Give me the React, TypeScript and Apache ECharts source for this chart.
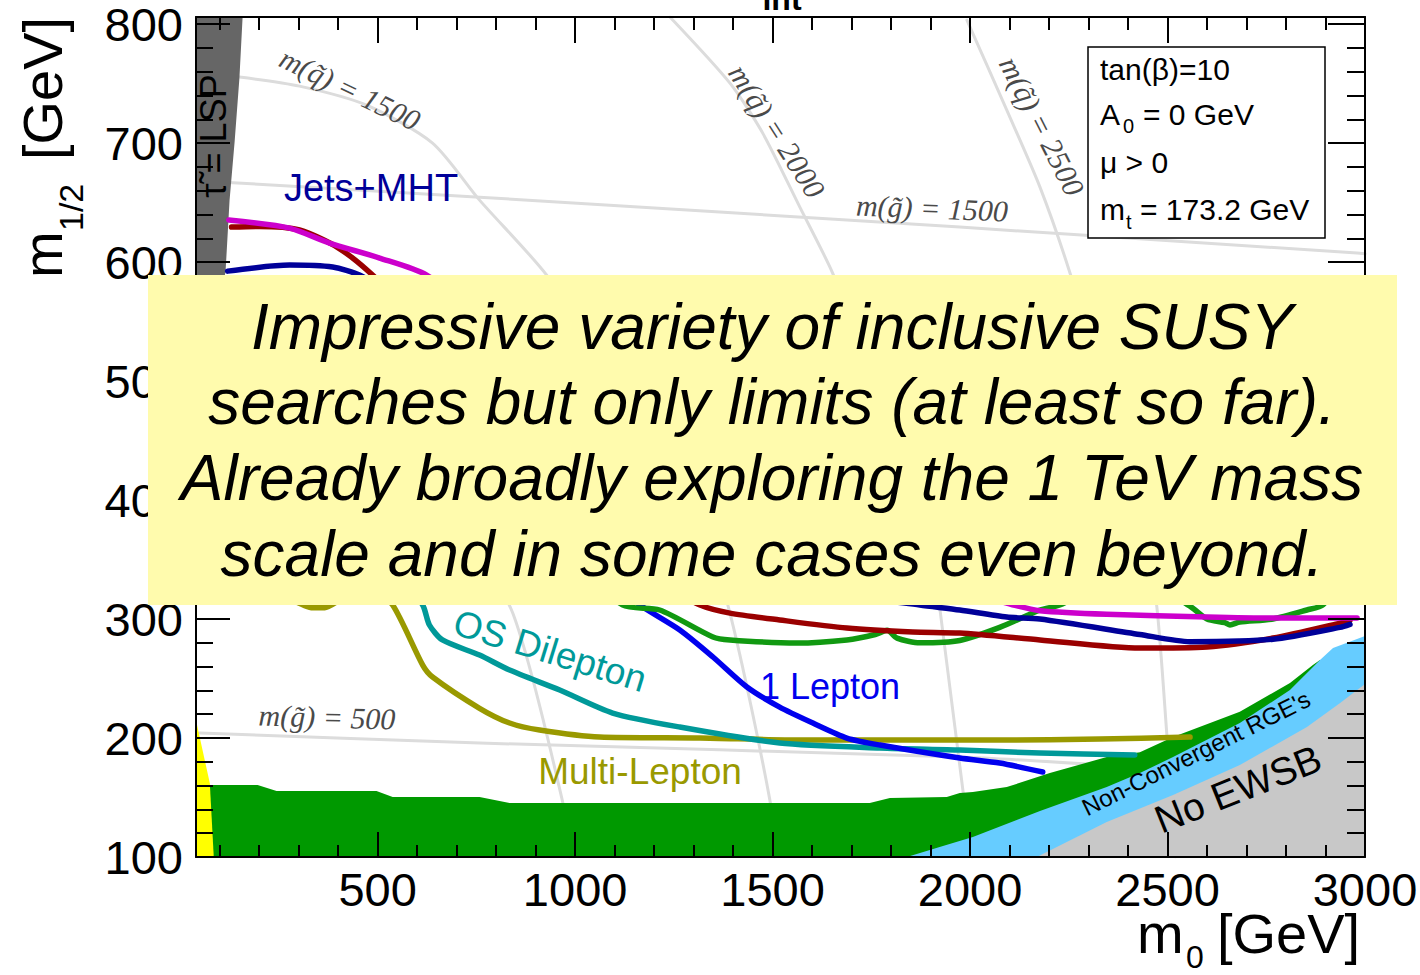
import React, { useEffect, useRef } from 'react';
import * as echarts from 'echarts';

// ---- axis ticks / labels ----
const X_MAJOR = [500, 1000, 1500, 2000, 2500, 3000];
const X_MINOR = [100, 200, 300, 400, 600, 700, 800, 900, 1100, 1200, 1300, 1400, 1600, 1700, 1800, 1900, 2100, 2200, 2300, 2400, 2600, 2700, 2800, 2900];
const Y_MAJOR = [100, 200, 300, 400, 500, 600, 700, 800];
const Y_MINOR = [120, 140, 160, 180, 220, 240, 260, 280, 320, 340, 360, 380, 420, 440, 460, 480, 520, 540, 560, 580, 620, 640, 660, 680, 720, 740, 760, 780];

// ---- filled regions (m0, m1/2) ----
const LSP_REGION = [[40, 806], [158, 806], [150, 755], [138, 702], [125, 652], [115, 593], [80, 520], [40, 470]];
const YELLOW_REGION = [[40, 215], [75, 162], [85, 100], [40, 100]];
const GREEN_REGION = [[70, 100], [70, 160.5], [196, 160.5], [244, 155.5], [497, 155.5], [538, 150.4], [758, 150.4], [834, 145.4], [1746, 145.4], [1797, 149.6], [1941, 150.4], [1974, 153.8], [2007, 154.6], [2093, 158.8], [2202, 170.6], [2346, 184], [2430, 188], [2514, 200.8], [2683, 222], [2810, 246.2], [2868, 261.3], [2886, 265.5], [2886, 100]];
const NONCONV_REGION = [[1840, 100], [1923, 108.4], [2007, 116.8], [2177, 138.7], [2346, 158.8], [2430, 170.6], [2514, 184], [2683, 212.6], [2810, 240.3], [2886, 265.5], [2919, 275.6], [3000, 285.7], [3000, 100]];
const NOEWSB_REGION = [[2169, 100], [2346, 129.4], [2514, 152.1], [2683, 177.3], [2853, 209.2], [2937, 229.4], [3000, 245.4], [3000, 100]];

// ---- iso-mass contours ----
const MSQ_1000 = [[200, 470], [500, 440], [700, 380], [842, 305], [969, 145.4], [985, 100]];
const MSQ_1500 = [[150, 755.5], [302, 747.9], [472, 731.9], [639, 700], [758, 652.1], [928, 589], [1150, 480], [1300, 400], [1392, 305], [1493, 148], [1505, 100]];
const MSQ_2000 = [[1240, 806], [1392, 750.4], [1475, 708.4], [1569, 646.2], [1652, 590.8], [1800, 470], [1900, 360], [1923, 310], [2000, 108.4], [2005, 100]];
const MSQ_2500 = [[1992, 803.4], [2093, 727.7], [2177, 663], [2253, 590.8], [2380, 450], [2450, 350], [2473, 310], [2498, 204], [2520, 100]];
const MG_500 = [[49, 204.2], [758, 195.8], [1974, 184], [2400, 176]];
const MG_1500 = [[110, 667.2], [758, 654.6], [1974, 629.4], [2980, 607.6], [3000, 607]];

// ---- exclusion limits ----
const MAGENTA = [[123, 635.3], [277, 628.6], [378, 616], [505, 603.4], [624, 589.1], [800, 545], [1000, 495], [1200, 440], [1500, 380], [1800, 340], [2000, 322], [2119, 311], [2177, 307], [2346, 304], [2600, 301.7], [2767, 300.8], [2980, 300.8]];
const DARKRED = [[130, 629.4], [200, 630], [302, 627], [400, 612], [487, 589.1], [700, 520], [900, 450], [1100, 370], [1250, 325], [1316, 311.8], [1392, 305], [1518, 299.2], [1688, 292.4], [1855, 289.1], [1974, 288.2], [2177, 282.4], [2430, 275.6], [2600, 276.5], [2767, 284], [2937, 296.6], [2962, 299]];
const JETS_MHT = [[120, 592.4], [277, 597.5], [386, 595.8], [454, 589.1], [600, 560], [800, 480], [1100, 400], [1400, 350], [1700, 320], [1873, 311.8], [1974, 307.6], [2093, 301.7], [2177, 300], [2430, 287], [2557, 281], [2767, 283], [2937, 293], [2962, 295.5]];
const GREEN_LINE = [[150, 470], [400, 460], [700, 420], [950, 360], [1120, 311.8], [1214, 307.6], [1349, 284.9], [1392, 282.4], [1561, 279.8], [1688, 282.4], [1760, 287], [1790, 290.5], [1815, 284], [1873, 280], [1974, 282], [2075, 293], [2177, 307.6], [2227, 311.8], [2350, 330], [2450, 330], [2560, 310], [2600, 300], [2645, 297], [2658, 295], [2683, 297.5], [2767, 300], [2853, 307.6], [2894, 312], [2950, 335], [3000, 350]];
const ONE_LEPTON = [[150, 560], [500, 520], [800, 450], [1000, 380], [1100, 330], [1164, 311.8], [1265, 290.8], [1349, 268.1], [1435, 242.9], [1518, 226], [1602, 212.6], [1688, 200], [1772, 194.1], [1974, 183.2], [2075, 179], [2184, 171.4]];
const OS_DILEPTON = [[150, 480], [350, 430], [550, 340], [614, 311.8], [631, 295], [664, 282.4], [758, 269.7], [834, 257.1], [961, 240.3], [1095, 221], [1265, 209.2], [1518, 195.8], [1772, 191.6], [1974, 189.9], [2177, 187.4], [2417, 185.7]];
const MULTI_LEPTON = [[100, 340], [250, 322], [336, 309.5], [366, 309.5], [420, 318], [500, 318], [538, 311.8], [614, 261.3], [639, 251.3], [758, 225], [834, 212.6], [910, 206.7], [1062, 200.8], [1316, 200], [1569, 198.3], [1822, 198.3], [2075, 198.3], [2329, 199.2], [2557, 200.8]];

const OVERLAY_LINES = [
  'Impressive variety of inclusive SUSY',
  'searches but only limits (at least so far).',
  'Already broadly exploring the 1 TeV mass',
  'scale and in some cases even beyond.',
];

const SANS = '"Liberation Sans", Arial, Helvetica, sans-serif';
const SERIF = '"Liberation Serif", "DejaVu Serif", serif';

function txt(text: string, x: number, y: number, font: string, fill: string, rot = 0, align = 'center', z = 60) {
  return {
    type: 'text', x, y, rotation: rot, z, silent: true,
    style: { text, x: 0, y: 0, font, fill, textAlign: align, align, textVerticalAlign: 'middle', verticalAlign: 'middle' },
  };
}

function polySeries(name: string, pts: number[][], color: string) {
  return {
    type: 'custom', name, data: pts, z: 2, silent: true, clip: true,
    xAxisIndex: 0, yAxisIndex: 0,
    renderItem: (params: any, api: any) => {
      if (params.dataIndex !== 0) return null;
      return { type: 'polygon', shape: { points: pts.map((p) => api.coord(p)) }, style: { fill: color } };
    },
  };
}

function lineSeries(name: string, pts: number[][], color: string, width: number, z: number) {
  return {
    type: 'line', name, data: pts, showSymbol: false, symbol: 'none', smooth: 0.25, silent: true, z,
    xAxisIndex: 0, yAxisIndex: 0,
    lineStyle: { color, width, cap: 'round', join: 'round' },
  };
}

function axis(dim: 'x' | 'y', position: string, ticks: number[], len: number, line: boolean, labels: boolean) {
  const range = dim === 'x' ? { min: 40, max: 3000 } : { min: 100, max: 806 };
  return {
    type: 'value', position, ...range, z: 10,
    axisLine: { show: line, onZero: false, lineStyle: { color: '#000', width: 2 } },
    axisTick: { show: true, inside: true, length: len, customValues: ticks, lineStyle: { color: '#000', width: 2 } },
    axisLabel: labels
      ? { show: true, customValues: ticks, formatter: (v: number) => String(v), margin: dim === 'x' ? 9 : 13, fontSize: 47, fontFamily: SANS, color: '#000' }
      : { show: false },
    splitLine: { show: false },
    minorTick: { show: false },
  };
}

export default function App() {
  const ref = useRef<HTMLDivElement>(null);
  useEffect(() => {
    if (!ref.current) return;
    const chart = echarts.init(ref.current, null, { renderer: 'svg' });
    const theory = '#dcdcdc';
    const lblFont = `italic 30px ${SERIF}`;
    const lblCol = '#4a4a4a';
    const ovFont = `italic 64px ${SANS}`;
    const option: any = {
      animation: false,
      backgroundColor: '#fff',
      grid: { left: 196, top: 17, width: 1169, height: 840, containLabel: false, outerBoundsMode: 'none' },
      xAxis: [
        axis('x', 'bottom', X_MAJOR, 25, true, true),
        axis('x', 'bottom', X_MINOR, 12, false, false),
        axis('x', 'top', X_MAJOR, 26, true, false),
        axis('x', 'top', X_MINOR, 13, false, false),
      ],
      yAxis: [
        axis('y', 'left', Y_MAJOR, 34, true, true),
        axis('y', 'left', Y_MINOR, 17, false, false),
        axis('y', 'right', Y_MAJOR, 37, true, false),
        axis('y', 'right', Y_MINOR, 18, false, false),
      ],
      series: [
        lineSeries('m(q)=1000', MSQ_1000, theory, 3, 1),
        lineSeries('m(q)=1500', MSQ_1500, theory, 3, 1),
        lineSeries('m(q)=2000', MSQ_2000, theory, 3, 1),
        lineSeries('m(q)=2500', MSQ_2500, theory, 3, 1),
        lineSeries('m(g)=500', MG_500, theory, 3, 1),
        lineSeries('m(g)=1500', MG_1500, theory, 3, 1),
        polySeries('LEP', GREEN_REGION, '#009900'),
        polySeries('Non-Convergent RGE', NONCONV_REGION, '#66ccff'),
        polySeries('No EWSB', NOEWSB_REGION, '#c8c8c8'),
        polySeries('yellow', YELLOW_REGION, '#ffff00'),
        polySeries('stau LSP', LSP_REGION, '#666666'),
        lineSeries('Multi-Lepton', MULTI_LEPTON, '#999900', 5.5, 3),
        lineSeries('OS Dilepton', OS_DILEPTON, '#009999', 5.5, 3),
        lineSeries('1 Lepton', ONE_LEPTON, '#0000ee', 5.5, 3),
        lineSeries('green', GREEN_LINE, '#119911', 5.5, 3),
        lineSeries('darkred', DARKRED, '#9a0000', 5.5, 3),
        lineSeries('Jets+MHT', JETS_MHT, '#000099', 5.5, 3),
        lineSeries('magenta', MAGENTA, '#cc00cc', 5.5, 3),
      ],
      graphic: {
        elements: [
          txt('int', 782, -1, `bold 32px ${SANS}`, '#000'),
          // contour labels
          txt('m(q\u0303) = 1500', 350, 89, lblFont, lblCol, -0.45),
          txt('m(q\u0303) = 2000', 777, 131, lblFont, lblCol, -1.0),
          txt('m(q\u0303) = 2500', 1042, 126, lblFont, lblCol, -1.1),
          txt('m(g\u0303) = 1500', 932, 208, lblFont, lblCol, -0.04),
          txt('m(g\u0303) = 500', 327, 717, lblFont, lblCol, -0.03),
          txt('\u03c4\u0303 = LSP', 213, 136, `36px ${SANS}`, '#000', Math.PI / 2),
          // analysis labels
          txt('Jets+MHT', 371, 188, `38px ${SANS}`, '#000099'),
          txt('OS Dilepton', 550, 651, `37px ${SANS}`, '#009999', -0.3),
          txt('1 Lepton', 830, 686, `36px ${SANS}`, '#0000ee'),
          txt('Multi-Lepton', 640, 771, `37px ${SANS}`, '#999900'),
          txt("Non-Convergent RGE's", 1196, 753, `24px ${SANS}`, '#000', 0.46),
          txt('No EWSB', 1238, 789, `39px ${SANS}`, '#000', 0.38),
          // parameter box
          { type: 'rect', z: 55, silent: true, shape: { x: 1088, y: 47, width: 237, height: 191 }, style: { fill: '#fff', stroke: '#000', lineWidth: 1.5 } },
          txt('tan(\u03b2)=10', 1100, 69.5, `30px ${SANS}`, '#000', 0, 'left'),
          txt('A', 1100, 114.5, `30px ${SANS}`, '#000', 0, 'left'),
          txt('0', 1123, 126, `20px ${SANS}`, '#000', 0, 'left'),
          txt('= 0 GeV', 1143, 114.5, `30px ${SANS}`, '#000', 0, 'left'),
          txt('\u03bc > 0', 1100, 162.5, `30px ${SANS}`, '#000', 0, 'left'),
          txt('m', 1100, 209.5, `30px ${SANS}`, '#000', 0, 'left'),
          txt('t', 1126, 222, `20px ${SANS}`, '#000', 0, 'left'),
          txt('= 173.2 GeV', 1140, 209.5, `30px ${SANS}`, '#000', 0, 'left'),
          // axis titles
          {
            type: 'group', x: 62, y: 278, rotation: Math.PI / 2, z: 60,
            children: [
              txt('m', 0, -19.6, `56px ${SANS}`, '#000', 0, 'left'),
              txt('1/2', 47, 8.8, `34px ${SANS}`, '#000', 0, 'left'),
              txt('[GeV]', 118, -19.6, `56px ${SANS}`, '#000', 0, 'left'),
            ],
          },
          txt('m', 1137, 933.4, `56px ${SANS}`, '#000', 0, 'left'),
          txt('0', 1186, 957, `32px ${SANS}`, '#000', 0, 'left'),
          txt('[GeV]', 1217, 933.4, `56px ${SANS}`, '#000', 0, 'left'),
          // overlay box
          { type: 'rect', z: 80, silent: true, shape: { x: 148, y: 275, width: 1249, height: 330 }, style: { fill: '#fffbad' } },
          txt(OVERLAY_LINES[0], 772, 326.6, ovFont, '#000', 0, 'center', 90),
          txt(OVERLAY_LINES[1], 772, 401.6, ovFont, '#000', 0, 'center', 90),
          txt(OVERLAY_LINES[2], 772, 477.6, ovFont, '#000', 0, 'center', 90),
          txt(OVERLAY_LINES[3], 772, 553.6, ovFont, '#000', 0, 'center', 90),
        ],
      },
    };
    chart.setOption(option);
    return () => chart.dispose();
  }, []);
  return <div ref={ref} style={{ position: 'fixed', left: 0, top: 0, width: 1420, height: 975, background: '#fff' }} />;
}
